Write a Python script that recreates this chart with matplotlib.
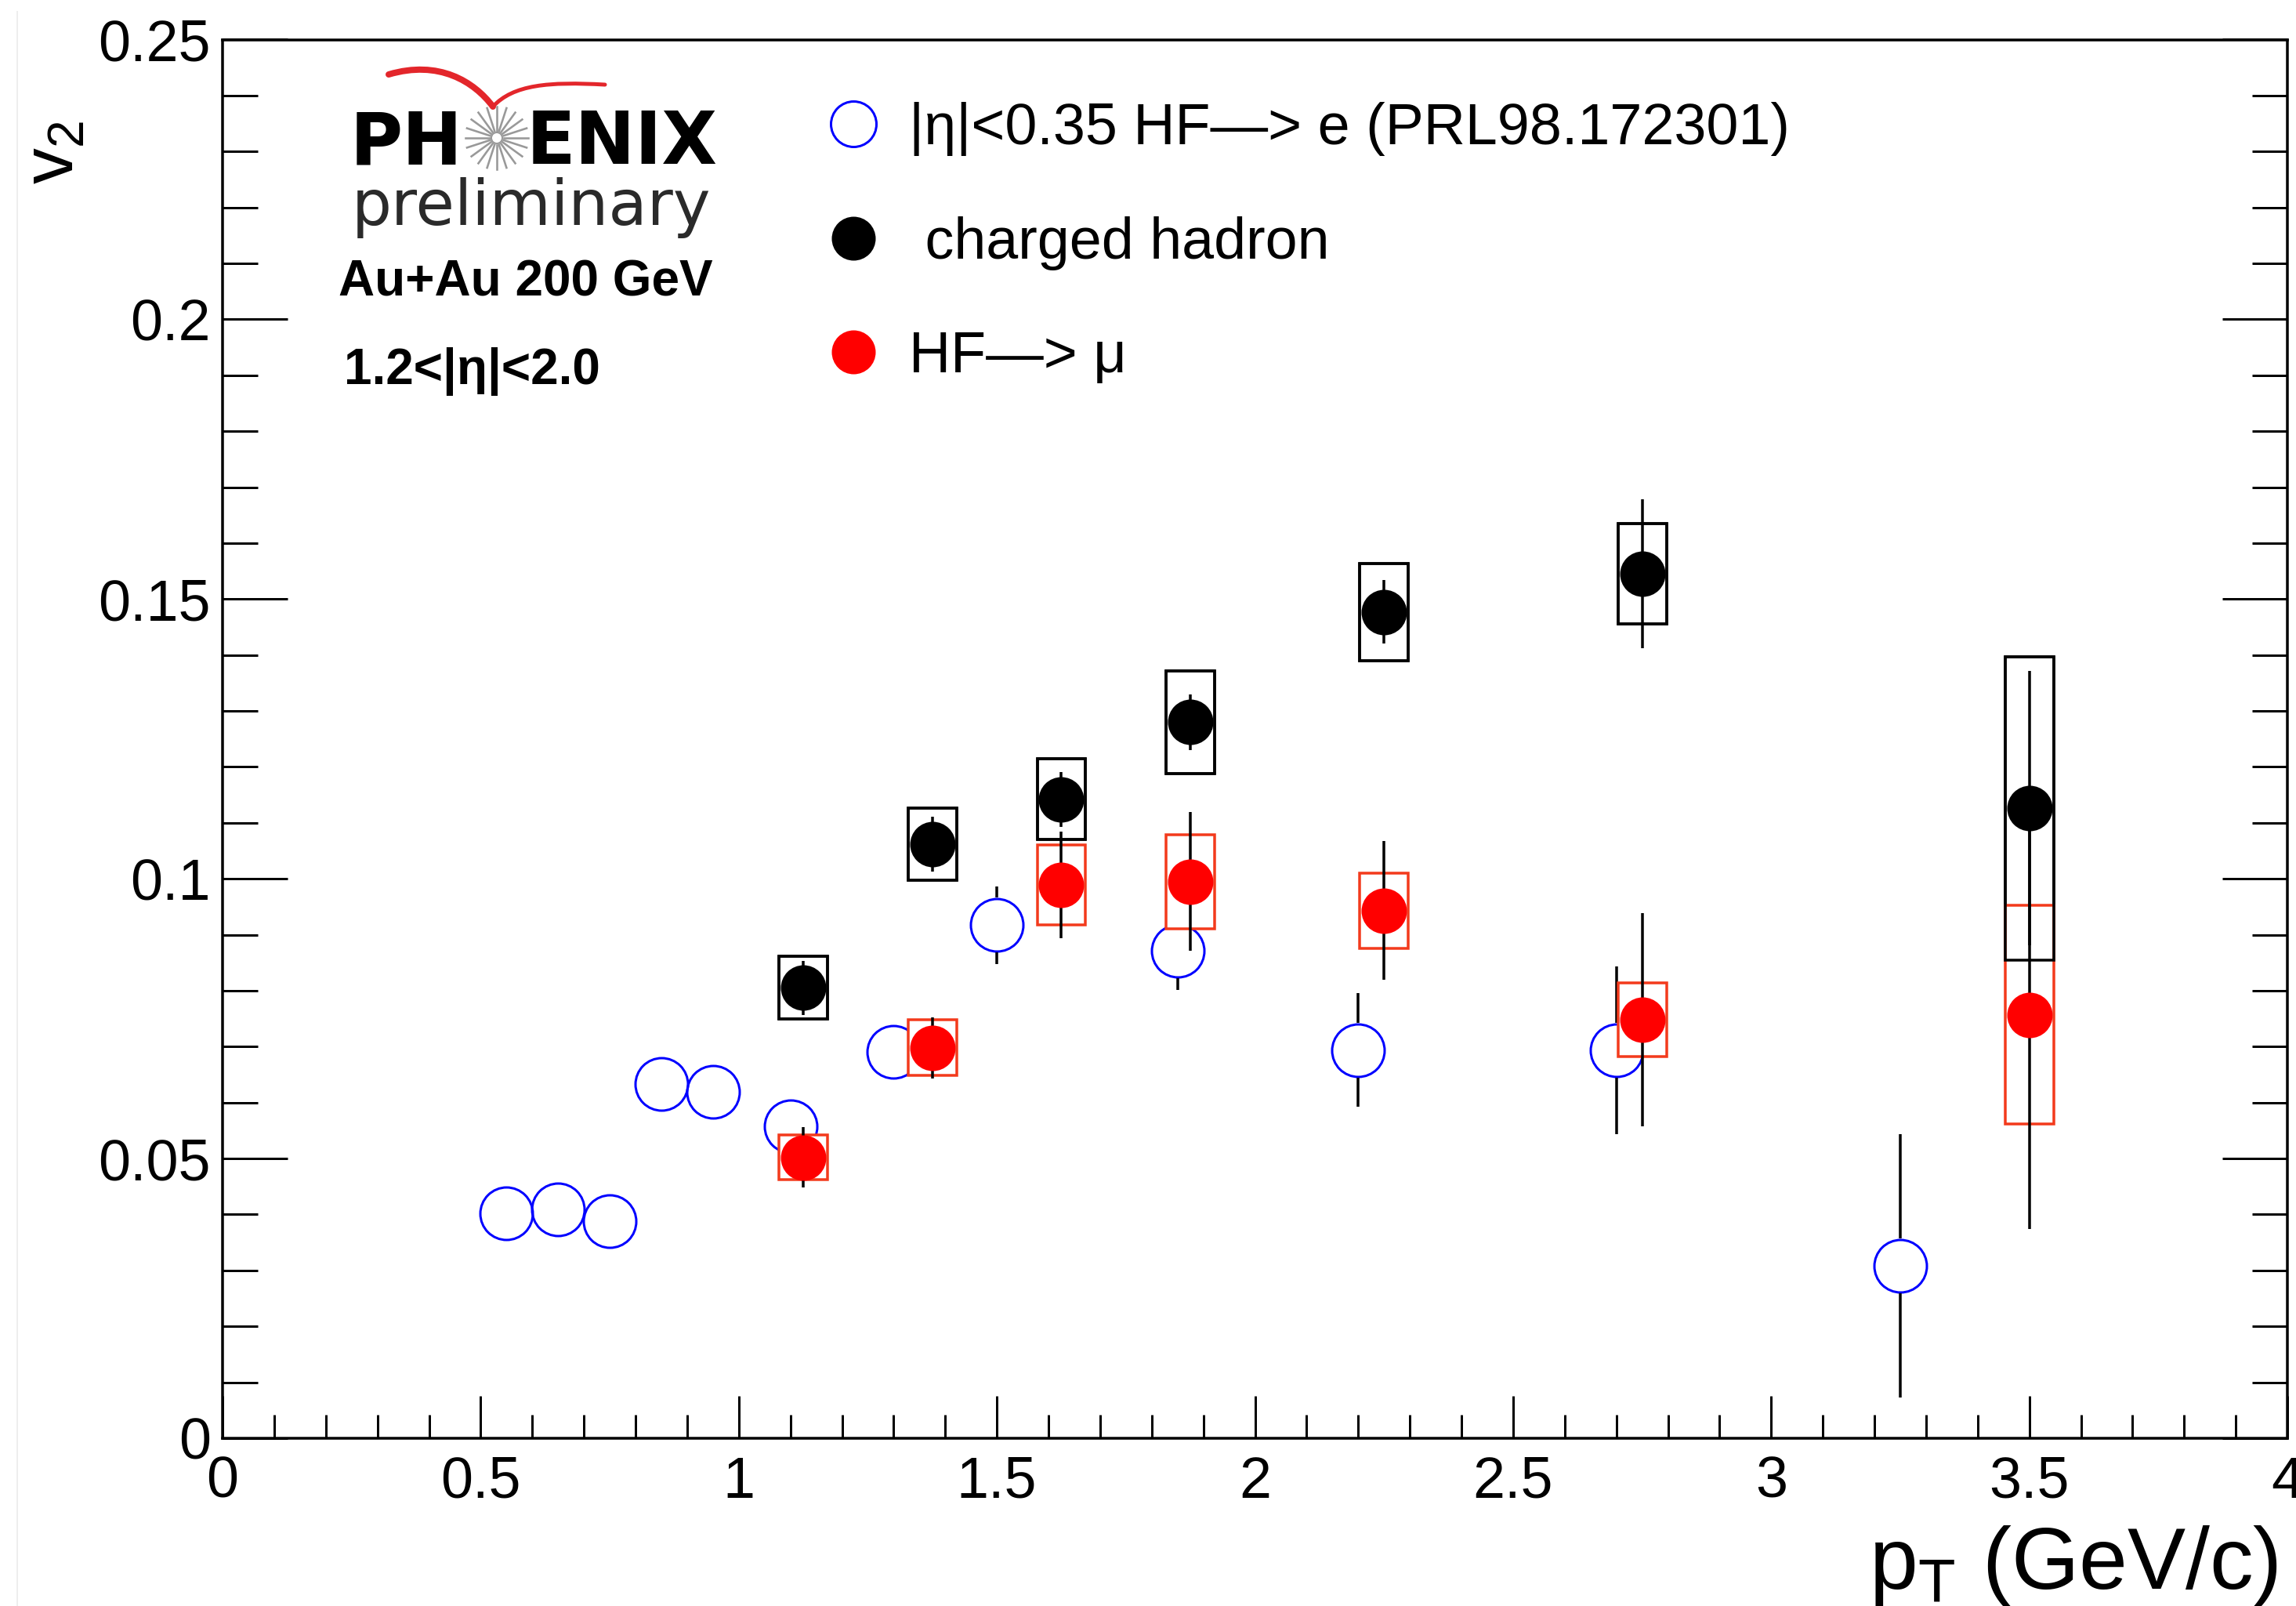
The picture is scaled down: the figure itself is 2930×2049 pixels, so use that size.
import numpy as np
import matplotlib
matplotlib.use("Agg")
import matplotlib.pyplot as plt
from matplotlib.patches import Rectangle, PathPatch, Ellipse
from matplotlib.path import Path
from matplotlib.lines import Line2D
from matplotlib.ticker import MultipleLocator, FuncFormatter

# ---------------------------------------------------------------- data
# heavy-flavour electrons at mid-rapidity, |eta| < 0.35 (PRL 98, 172301)
pt_e = [0.55, 0.65, 0.75, 0.85, 0.95, 1.1, 1.3, 1.5, 1.85, 2.2, 2.7, 3.25]
v2_e = [0.0402, 0.0409, 0.0388, 0.0633, 0.0619, 0.0557, 0.0691, 0.0917,
        0.0871, 0.0694, 0.0693, 0.0308]
stat_e = [0.004, 0.004, 0.004, 0.004, 0.004, 0.004, 0.004, 0.0069,
          0.0069, 0.0102, 0.0150, 0.0235]

# charged hadrons, 1.2 < |eta| < 2.0
pt_h = [1.125, 1.375, 1.625, 1.875, 2.25, 2.75, 3.5]
v2_h = [0.0805, 0.1062, 0.1142, 0.1280, 0.1477, 0.1545, 0.1126]
stat_h = [0.0048, 0.0049, 0.0049, 0.0050, 0.0057, 0.0133, 0.0245]
sys_h = [0.0056, 0.0065, 0.0072, 0.0092, 0.0087, 0.0090, 0.0271]

# heavy-flavour muons, 1.2 < |eta| < 2.0
pt_mu = [1.125, 1.375, 1.625, 1.875, 2.25, 2.75, 3.5]
v2_mu = [0.0502, 0.0698, 0.0989, 0.0995, 0.0943, 0.0748, 0.0757]
stat_mu = [0.0054, 0.0055, 0.0095, 0.0124, 0.0124, 0.0190, 0.0383]
sys_mu = [0.0040, 0.0050, 0.0071, 0.0084, 0.0067, 0.0066, 0.0195]

legend_labels = ["|\u03b7|<0.35 HF\u2014> e (PRL98.172301)",
                 " charged hadron",
                 "HF\u2014> \u03bc"]

# ---------------------------------------------------------------- style
W, H, DPI = 2930, 2049, 200
PX = 72.0 / DPI                      # one pixel in points
BLUE, RED, RED_BOX = "#0000ff", "#ff0000", "#f33a1c"
BOX_HW = 0.047                       # half width of systematic boxes (GeV/c)
LW = 3.5 * PX

plt.rcParams["font.family"] = ["Liberation Sans", "DejaVu Sans"]
plt.rcParams["mathtext.fontset"] = "custom"
plt.rcParams["mathtext.rm"] = "Liberation Sans"
plt.rcParams["mathtext.it"] = "Liberation Sans"
plt.rcParams["mathtext.default"] = "regular"

fig = plt.figure(figsize=(W / DPI, H / DPI), dpi=DPI)
AX_L, AX_R, AX_T, AX_B = 284, 2919, 50.5, 1835
ax = fig.add_axes([AX_L / W, 1 - AX_B / H, (AX_R - AX_L) / W, (AX_B - AX_T) / H])

XMIN, XMAX, YMIN, YMAX = 0.0, 4.0, 0.0, 0.25
ax.set_xlim(XMIN, XMAX)
ax.set_ylim(YMIN, YMAX)


def fx(x):
    return x / W


def fy(y):
    return 1 - y / H


# ---------------------------------------------------------------- electrons
ms_open = 67 * PX
ax.plot(pt_e, v2_e, ls="none", marker="o", ms=ms_open, mfc="none",
        mec=BLUE, mew=3 * PX, zorder=2)
# statistical bars are drawn only outside the hollow marker
gap = 35 * (YMAX - YMIN) / (AX_B - AX_T)
pe, ve, se = np.array(pt_e), np.array(v2_e), np.array(stat_e)
m = se > gap
ax.vlines(pe[m], ve[m] + gap, ve[m] + se[m], color="k", lw=LW, zorder=2)
ax.vlines(pe[m], ve[m] - se[m], ve[m] - gap, color="k", lw=LW, zorder=2)

# ---------------------------------------------------------------- boxes
for x, y, s in zip(pt_h, v2_h, sys_h):
    ax.add_patch(Rectangle((x - BOX_HW, y - s), 2 * BOX_HW, 2 * s,
                           facecolor="white", edgecolor="k", lw=LW, zorder=3))
for x, y, s in zip(pt_mu, v2_mu, sys_mu):
    ax.add_patch(Rectangle((x - BOX_HW, y - s), 2 * BOX_HW, 2 * s,
                           facecolor="white", edgecolor=RED_BOX, lw=LW, zorder=3.1))
for x, y, s in zip(pt_h, v2_h, sys_h):
    ax.add_patch(Rectangle((x - BOX_HW, y - s), 2 * BOX_HW, 2 * s,
                           facecolor="none", edgecolor="k", lw=LW, zorder=3.2))

# ---------------------------------------------------------------- points
ms_fill = 58 * PX
ax.errorbar(pt_h, v2_h, yerr=stat_h, fmt="none", ecolor="k", elinewidth=LW,
            capsize=0, zorder=4)
ax.errorbar(pt_mu, v2_mu, yerr=stat_mu, fmt="none", ecolor="k", elinewidth=LW,
            capsize=0, zorder=4)
ax.plot(pt_h, v2_h, ls="none", marker="o", ms=ms_fill, color="k", mew=0, zorder=5)
ax.plot(pt_mu, v2_mu, ls="none", marker="o", ms=ms_fill, color=RED, mew=0, zorder=5)

# ---------------------------------------------------------------- axes
for sp in ax.spines.values():
    sp.set_linewidth(LW)
ax.xaxis.set_major_locator(MultipleLocator(0.5))
ax.xaxis.set_minor_locator(MultipleLocator(0.1))
ax.yaxis.set_major_locator(MultipleLocator(0.05))
ax.yaxis.set_minor_locator(MultipleLocator(0.01))
fmt = FuncFormatter(lambda v, p: "%g" % round(v, 4))
ax.xaxis.set_major_formatter(fmt)
ax.yaxis.set_major_formatter(fmt)
ax.tick_params(axis="x", which="both", direction="in", top=False, bottom=True,
               width=3 * PX, labelsize=26.5, pad=7.9)
ax.tick_params(axis="x", which="major", length=54 * PX)
ax.tick_params(axis="x", which="minor", length=30 * PX)
ax.tick_params(axis="y", which="both", direction="in", left=True, right=True,
               width=3 * PX, labelsize=26.5, pad=5.4)
ax.tick_params(axis="y", which="major", length=83 * PX)
ax.tick_params(axis="y", which="minor", length=45 * PX)

fig.text(fx(2907), fy(2027), r"$p_{T}$ (GeV/c)", ha="right", va="baseline",
         fontsize=40)
fig.text(fx(69), fy(194), r"$v_{2}$", rotation=90, ha="center", va="center",
         fontsize=33)

# ---------------------------------------------------------------- legend
handles = [
    Line2D([], [], ls="none", marker="o", ms=58 * PX, mfc="none", mec=BLUE,
           mew=3 * PX),
    Line2D([], [], ls="none", marker="o", ms=56 * PX, color="k", mew=0),
    Line2D([], [], ls="none", marker="o", ms=56 * PX, color=RED, mew=0),
]
fs_leg = 26.5
fs_px = fs_leg / PX
leg_left = 1089 - fs_px / 2
leg_top = 130
ax.legend(handles, legend_labels, loc="upper left", frameon=False,
          fontsize=fs_leg, handlelength=1.0, handletextpad=0.46,
          labelspacing=1.04, borderpad=0, borderaxespad=0,
          bbox_to_anchor=((leg_left - AX_L) / (AX_R - AX_L),
                          (AX_B - leg_top) / (AX_B - AX_T)))

# ---------------------------------------------------------------- logo
fig.text(fx(447), fy(209), "PH", family="DejaVu Sans", weight="bold",
         fontsize=33, ha="left", va="baseline")
fig.text(fx(672), fy(209), "ENIX", family="DejaVu Sans", weight="bold",
         fontsize=33, ha="left", va="baseline")
# starburst in place of the "O"
cx, cy, r0, r1 = 634, 176, 9, 40
for a in np.linspace(0, 2 * np.pi, 20, endpoint=False):
    fig.add_artist(Line2D([fx(cx + r0 * np.cos(a)), fx(cx + r1 * np.cos(a))],
                          [fy(cy + r0 * np.sin(a)), fy(cy + r1 * np.sin(a))],
                          transform=fig.transFigure, color="#999999",
                          lw=2.6 * PX))
fig.add_artist(Ellipse((fx(cx), fy(cy)), 14 / W, 14 / H, transform=fig.transFigure,
                       facecolor="white", edgecolor="#999999", lw=2 * PX))
# red swoosh above the name
left_arm = Path([(fx(496), fy(95)), (fx(560), fy(76)), (fx(605), fy(104)),
                 (fx(629), fy(136))],
                [Path.MOVETO, Path.CURVE4, Path.CURVE4, Path.CURVE4])
right_arm = Path([(fx(629), fy(136)), (fx(655), fy(108)), (fx(700), fy(104)),
                  (fx(772), fy(108))],
                 [Path.MOVETO, Path.CURVE4, Path.CURVE4, Path.CURVE4])
fig.add_artist(PathPatch(left_arm, transform=fig.transFigure, facecolor="none",
                         edgecolor="#e3262b", lw=8 * PX, capstyle="round"))
fig.add_artist(PathPatch(right_arm, transform=fig.transFigure, facecolor="none",
                         edgecolor="#e3262b", lw=5 * PX, capstyle="round"))
fig.text(fx(449), fy(287), "preliminary", family="DejaVu Sans",
         fontsize=29, color="#2a2a2a", ha="left", va="baseline")
fig.text(fx(432), fy(378), "Au+Au 200 GeV", weight="bold", fontsize=23,
         ha="left", va="baseline")
fig.text(fx(439), fy(490), "1.2<|\u03b7|<2.0", weight="bold", fontsize=23,
         ha="left", va="baseline")

# faint frame line at the left edge of the canvas
fig.add_artist(Line2D([fx(22), fx(22)], [fy(15), 0], transform=fig.transFigure,
                      color="#eeeeee", lw=2 * PX))

fig.savefig("out.png", dpi=DPI, facecolor="white")
